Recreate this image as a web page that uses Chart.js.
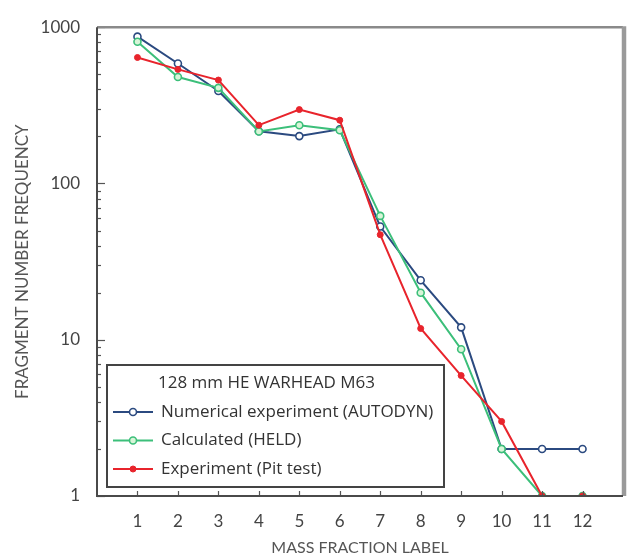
<!DOCTYPE html>
<html>
<head>
<meta charset="utf-8">
<script src="https://cdn.jsdelivr.net/npm/chart.js@4.4.1/dist/chart.umd.min.js"></script>
<style>
    html, body { margin: 0; padding: 0; background: #ffffff; }
    #wrap { position: relative; width: 638px; height: 558px; }
</style>
</head>
<body>
<div id="wrap">
    <canvas id="fragChart" width="638" height="558"></canvas>
</div>
<script>
// data
const massLabels = [1, 2, 3, 4, 5, 6, 7, 8, 9, 10, 11, 12];

const autodynValues = [870, 586, 391, 216, 201, 222, 53, 24, 12, 2, 2, 2];
const heldValues = [807, 480, 409, 215, 236, 219, 62, 20, 8.7, 2, 1, 1];
const pitValues = [640, 537, 459, 236, 297, 254, 47, 11.8, 5.9, 3, 1, 1];

const yTickLabels = [1, 10, 100, 1000];

const legendTitle = "128 mm HE WARHEAD M63";

const seriesNames = [
    "Numerical experiment (AUTODYN)",
    "Calculated (HELD)",
    "Experiment (Pit test)"
];

const blue = "#2b4a80";
const green = "#3cbf7a";
const red = "#e8242c";

function toPoints(values)
{
    return massLabels.map((m, i) => ({ x: m, y: values[i] }));
}

// minor ticks 1..9 per decade, labels only on the decades
function logTicks()
{
    const ticks = [];
    for (let d = 1; d < 1000; d *= 10)
    {
        for (let k = 1; k < 10; k++)
        {
            ticks.push({ value: k * d, major: k === 1 });
        }
    }
    ticks.push({ value: 1000, major: true });
    return ticks;
}

const frameAndLegend = {
    id: "frameAndLegend",
    afterDraw(chart)
    {
        const ctx = chart.ctx;
        const area = chart.chartArea;
        const xs = chart.scales.x;
        const ys = chart.scales.y;

        ctx.save();

        // inside tick marks, left axis
        ctx.strokeStyle = "#555";
        ctx.lineWidth = 1.2;
        ys.ticks.forEach(t =>
        {
            const y = Math.round(ys.getPixelForValue(t.value)) + 0.5;
            const len = yTickLabels.includes(t.value) ? 8 : 4;
            ctx.beginPath();
            ctx.moveTo(area.left, y);
            ctx.lineTo(area.left + len, y);
            ctx.stroke();
        });

        // inside tick marks, bottom axis
        massLabels.forEach(m =>
        {
            const x = Math.round(xs.getPixelForValue(m)) + 0.5;
            ctx.beginPath();
            ctx.moveTo(x, area.bottom);
            ctx.lineTo(x, area.bottom - 5);
            ctx.stroke();
        });

        // frame: grey top and thick grey right edge
        ctx.strokeStyle = "#8a8a8a";
        ctx.lineWidth = 2.5;
        ctx.beginPath();
        ctx.moveTo(area.left, area.top);
        ctx.lineTo(area.right, area.top);
        ctx.stroke();

        ctx.strokeStyle = "#9a9a9a";
        ctx.lineWidth = 4.5;
        ctx.beginPath();
        ctx.moveTo(area.right + 1, area.top - 1);
        ctx.lineTo(area.right + 1, area.bottom);
        ctx.stroke();

        // dark left and bottom axis lines
        ctx.strokeStyle = "#4a4a4a";
        ctx.lineWidth = 2;
        ctx.beginPath();
        ctx.moveTo(area.left, area.top);
        ctx.lineTo(area.left, area.bottom);
        ctx.lineTo(area.right, area.bottom);
        ctx.stroke();

        // legend box inside the plot
        const bx = area.left + 10;
        const by = area.bottom - 131;
        const bw = 337;
        const bh = 122;

        ctx.fillStyle = "#ffffff";
        ctx.fillRect(bx, by, bw, bh);
        ctx.strokeStyle = "#444";
        ctx.lineWidth = 2;
        ctx.strokeRect(bx, by, bw, bh);

        ctx.fillStyle = "#333";
        ctx.textBaseline = "middle";
        ctx.textAlign = "left";
        ctx.font = "17px 'Open Sans'";
        ctx.fillText(legendTitle, bx + 51, by + 18);

        const order = [0, 1, 2];
        order.forEach((dsIndex, row) =>
        {
            const ds = chart.data.datasets[dsIndex];
            const y = by + 47 + row * 28.5;

            ctx.strokeStyle = ds.borderColor;
            ctx.lineWidth = 2;
            ctx.beginPath();
            ctx.moveTo(bx + 6, y);
            ctx.lineTo(bx + 46, y);
            ctx.stroke();

            ctx.beginPath();
            ctx.arc(bx + 26, y, ds.pointRadius, 0, Math.PI * 2);
            ctx.fillStyle = ds.pointBackgroundColor;
            ctx.fill();
            ctx.lineWidth = ds.pointBorderWidth;
            ctx.strokeStyle = ds.pointBorderColor;
            ctx.stroke();

            ctx.fillStyle = "#333";
            ctx.fillText(ds.label, bx + 54, y);
        });

        ctx.restore();
    }
};

const ctx = document.getElementById("fragChart").getContext("2d");

new Chart(ctx, {
    type: "line",
    data: {
        datasets: [
            {
                label: seriesNames[0],
                data: toPoints(autodynValues),
                borderColor: blue,
                borderWidth: 2,
                pointRadius: 3.5,
                pointBackgroundColor: "#ffffff",
                pointBorderColor: blue,
                pointBorderWidth: 1.6,
                order: 2
            },
            {
                label: seriesNames[1],
                data: toPoints(heldValues),
                borderColor: green,
                borderWidth: 2,
                pointRadius: 3.5,
                pointBackgroundColor: "#d8f5d8",
                pointBorderColor: green,
                pointBorderWidth: 1.6,
                order: 1
            },
            {
                label: seriesNames[2],
                data: toPoints(pitValues),
                borderColor: red,
                borderWidth: 2,
                pointRadius: 3,
                pointBackgroundColor: red,
                pointBorderColor: red,
                pointBorderWidth: 1,
                order: 0
            }
        ]
    },
    options: {
        responsive: false,
        animation: false,
        layout: {
            padding: { top: 18, right: 7, left: 0, bottom: 0 }
        },
        plugins: {
            legend: { display: false },
            tooltip: { enabled: false }
        },
        scales: {
            x: {
                type: "linear",
                min: 0,
                max: 13,
                border: { display: false },
                grid: { display: false, drawTicks: false },
                afterFit: scale => { scale.height = 62; },
                ticks: {
                    stepSize: 1,
                    autoSkip: false,
                    padding: 15,
                    color: "#444",
                    font: { family: "Lato", size: 17 },
                    callback: v => massLabels.includes(v) ? String(v) : ""
                },
                title: {
                    display: true,
                    text: "MASS FRACTION LABEL",
                    color: "#555",
                    font: { family: "Lato", size: 16 },
                    padding: { top: 0, bottom: 1 }
                }
            },
            y: {
                type: "logarithmic",
                min: 1,
                max: 1000,
                border: { display: false },
                grid: { display: false, drawTicks: false },
                afterFit: scale => { scale.width = 97; },
                afterBuildTicks: scale => { scale.ticks = logTicks(); },
                ticks: {
                    autoSkip: false,
                    padding: 17,
                    color: "#444",
                    font: { family: "Lato", size: 17 },
                    callback: v => yTickLabels.includes(v) ? String(v) : ""
                },
                title: {
                    display: true,
                    text: "FRAGMENT NUMBER FREQUENCY",
                    color: "#555",
                    font: { family: "Lato", size: 17 },
                    padding: { top: 12, bottom: 0 }
                }
            }
        }
    },
    plugins: [frameAndLegend]
});
</script>
</body>
</html>
